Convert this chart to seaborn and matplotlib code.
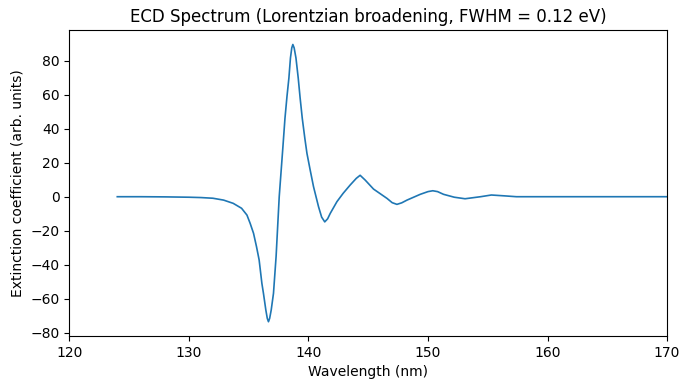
import pandas as pd
import matplotlib
matplotlib.use("Agg")
import matplotlib.pyplot as plt
import seaborn as sns

# Values
wavelength_nm = [124.0, 126.0, 128.0, 130.0, 131.0, 132.0, 132.9, 133.7, 134.4, 134.85,
                 135.12, 135.4, 135.65, 135.87, 136.1, 136.23, 136.43, 136.55, 136.65, 136.75,
                 136.88, 137.07, 137.29, 137.55, 137.86, 138.03, 138.2, 138.36, 138.49, 138.6,
                 138.69, 138.8, 138.95, 139.14, 139.3, 139.48, 139.7, 139.87, 140.14, 140.42,
                 140.84, 141.1, 141.36, 141.6, 141.82, 142.38, 142.9, 143.49, 144.0, 144.32,
                 144.74, 145.44, 146.57, 147.0, 147.4, 147.8, 148.24, 149.35, 150.0, 150.4,
                 150.8, 151.3, 152.2, 153.1, 154.4, 155.3, 156.4, 157.4, 160.0, 165.0,
                 170.0]
extinction = [0.0, 0.0, -0.1, -0.3, -0.5, -0.9, -2.0, -3.9, -6.8, -10.8,
              -15.7, -21.5, -29.4, -37.2, -51.0, -56.8, -66.6, -71.5, -73.5, -71.5,
              -66.6, -56.8, -35.0, 0.0, 29.4, 46.0, 59.0, 69.8, 81.6, 87.5,
              89.5, 87.5, 81.6, 69.8, 58.0, 46.0, 34.0, 25.5, 15.7, 5.9,
              -5.9, -12.0, -14.8, -13.0, -9.8, -2.9, 2.0, 6.9, 10.8, 12.6,
              9.8, 4.5, -1.0, -3.5, -4.5, -3.6, -2.0, 1.4, 3.0, 3.5,
              3.0, 1.4, -0.3, -1.2, 0.0, 1.0, 0.5, 0.0, 0.0, 0.0,
              0.0]

df = pd.DataFrame({"Wavelength": wavelength_nm, "Extinction": extinction})

fig, ax = plt.subplots(figsize=(6.9, 3.9), dpi=100)
fig.subplots_adjust(left=0.1007, right=0.9667, top=0.923, bottom=0.138)

sns.lineplot(data=df, x="Wavelength", y="Extinction", ax=ax,
             color="#1f77b4", linewidth=1.2, estimator=None, sort=False)

ax.set_xlim(120, 170)
ax.set_ylim(-82, 98)
ax.set_title("ECD Spectrum (Lorentzian broadening, FWHM = 0.12 eV)")
ax.set_xlabel("Wavelength (nm)")
ax.set_ylabel("Extinction coefficient (arb. units)")

fig.savefig("out.png", dpi=100)
